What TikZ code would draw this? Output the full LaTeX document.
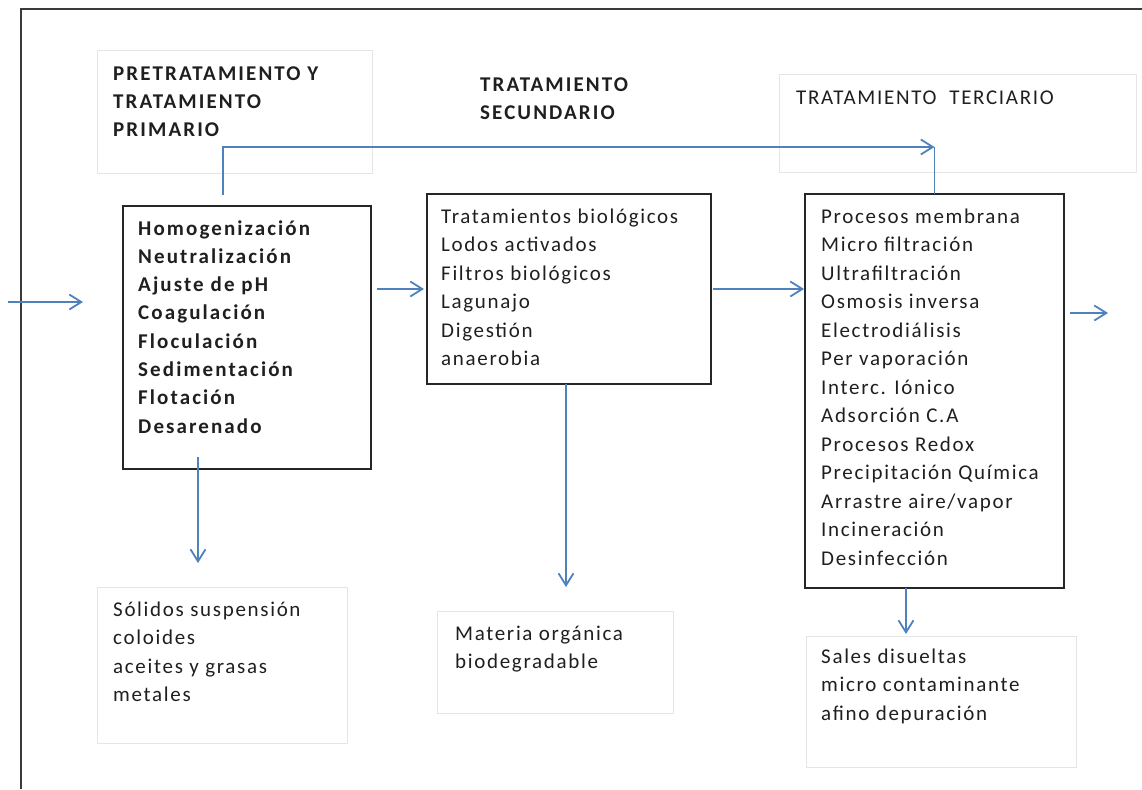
\documentclass[tikz,border=0pt]{standalone}
\usepackage{fontspec}
\setmainfont{Carlito}[LetterSpace=8,BoldFeatures={LetterSpace=10}]
\usetikzlibrary{arrows.meta}
\definecolor{flow}{HTML}{4F81BD}
\definecolor{framegray}{HTML}{3A3A3A}
\begin{document}
\begin{tikzpicture}[x=1pt,y=-1pt,
  box/.style={draw=black!85, line width=1.4pt, inner sep=0pt, outer sep=0pt},
  caption/.style={draw=black!10, line width=0.8pt, inner sep=0pt, outer sep=0pt},
  txt/.style={anchor=north west, inner sep=0pt, align=left, text=black!88,
    font=\fontsize{21}{28.5}\selectfont},
  boldtxt/.style={txt, font=\fontsize{21}{28.3}\selectfont\bfseries},
  flowline/.style={draw=flow, line width=1.8pt},
  arr/.style={flowline, -{Straight Barb[length=12pt,width=15pt,line width=1.8pt]}},
]
\useasboundingbox (0,0) rectangle (1142,789);

% outer frame (top and left edges)
\draw[framegray, line width=2.6pt] (21,789) -- (21,9) -- (1142,9);

% stage captions
\node[caption, minimum width=275pt, minimum height=123pt] (c1) at (234.5,111.5) {};
\node[caption, minimum width=357pt, minimum height=98pt] (c3) at (957.5,123) {};
\node[boldtxt, font=\fontsize{21}{28}\selectfont\bfseries] (t1) at (113,61) {\strut PRETRATAMIENTO Y\\TRATAMIENTO\\PRIMARIO};
\node[boldtxt, font=\fontsize{21}{28}\selectfont\bfseries] (t2) at (480,72) {\strut TRATAMIENTO\\SECUNDARIO};
\node[txt] (t3) at (796,84) {\strut TRATAMIENTO\ \ TERCIARIO};

% process boxes
\node[box, minimum width=248pt, minimum height=263pt] (b1) at (247,337.5) {};
\node[box, minimum width=284pt, minimum height=190pt] (b2) at (569,289) {};
\node[box, minimum width=259pt, minimum height=394pt] (b3) at (934.5,391) {};

\node[boldtxt] (l1) at (138,215) {\strut Homogenización\\Neutralización\\Ajuste de pH\\Coagulación\\Floculación\\Sedimentación\\Flotación\\Desarenado};
\node[txt] (l2) at (441,203) {\strut Tratamientos biológicos\\Lodos activados\\Filtros biológicos\\Lagunajo\\Digestión\\anaerobia};
\node[txt] (l3) at (821,203) {\strut Procesos membrana\\Micro filtración\\Ultrafiltración\\Osmosis inversa\\Electrodiálisis\\Per vaporación\\Interc. Iónico\\Adsorción C.A\\Procesos Redox\\Precipitación Química\\Arrastre aire/vapor\\Incineración\\Desinfección};

% removed fractions
\node[caption, minimum width=250pt, minimum height=156pt] (o1) at (222,665) {};
\node[caption, minimum width=236pt, minimum height=102pt] (o2) at (555,662) {};
\node[caption, minimum width=270pt, minimum height=131pt] (o3) at (941,701.5) {};

\node[txt] (r1) at (113,596) {\strut Sólidos suspensión\\coloides\\aceites y grasas\\metales};
\node[txt] (r2) at (455,620) {\strut Materia orgánica\\biodegradable};
\node[txt] (r3) at (821,643) {\strut Sales disueltas\\micro contaminante\\afino depuración};

% flow connectors
\coordinate (in) at (8,302);
\coordinate (out) at (1108,313);
\coordinate (y12) at (0,289);
\coordinate (byp) at (223,147);
\coordinate (d1) at (198,0);
\coordinate (d2) at (566,0);
\coordinate (d3) at (906,0);

\draw[arr, shorten >=40pt] (in) -- (in -| b1.west);
\draw[arr, shorten <=6pt, shorten >=3pt] (b1.east |- y12) -- (b2.west |- y12);
\draw[arr, shorten <=2pt, shorten >=1pt] (b2.east |- y12) -- (b3.west |- y12);
\draw[arr, shorten <=6pt] (b3.east |- out) -- (out);

\draw[arr] (b1.north -| byp) ++(0,-11) -- (byp) -- (byp -| b3.north);
\draw[flowline] (byp -| b3.north) -- (b3.north);

\draw[arr, shorten >=24pt] (b1.south -| d1) ++(0,-12) -- (o1.north -| d1);
\draw[arr, shorten >=24pt] (b2.south -| d2) -- (o2.north -| d2);
\draw[arr, shorten >=2pt] (b3.south -| d3) -- (o3.north -| d3);
\end{tikzpicture}
\end{document}
